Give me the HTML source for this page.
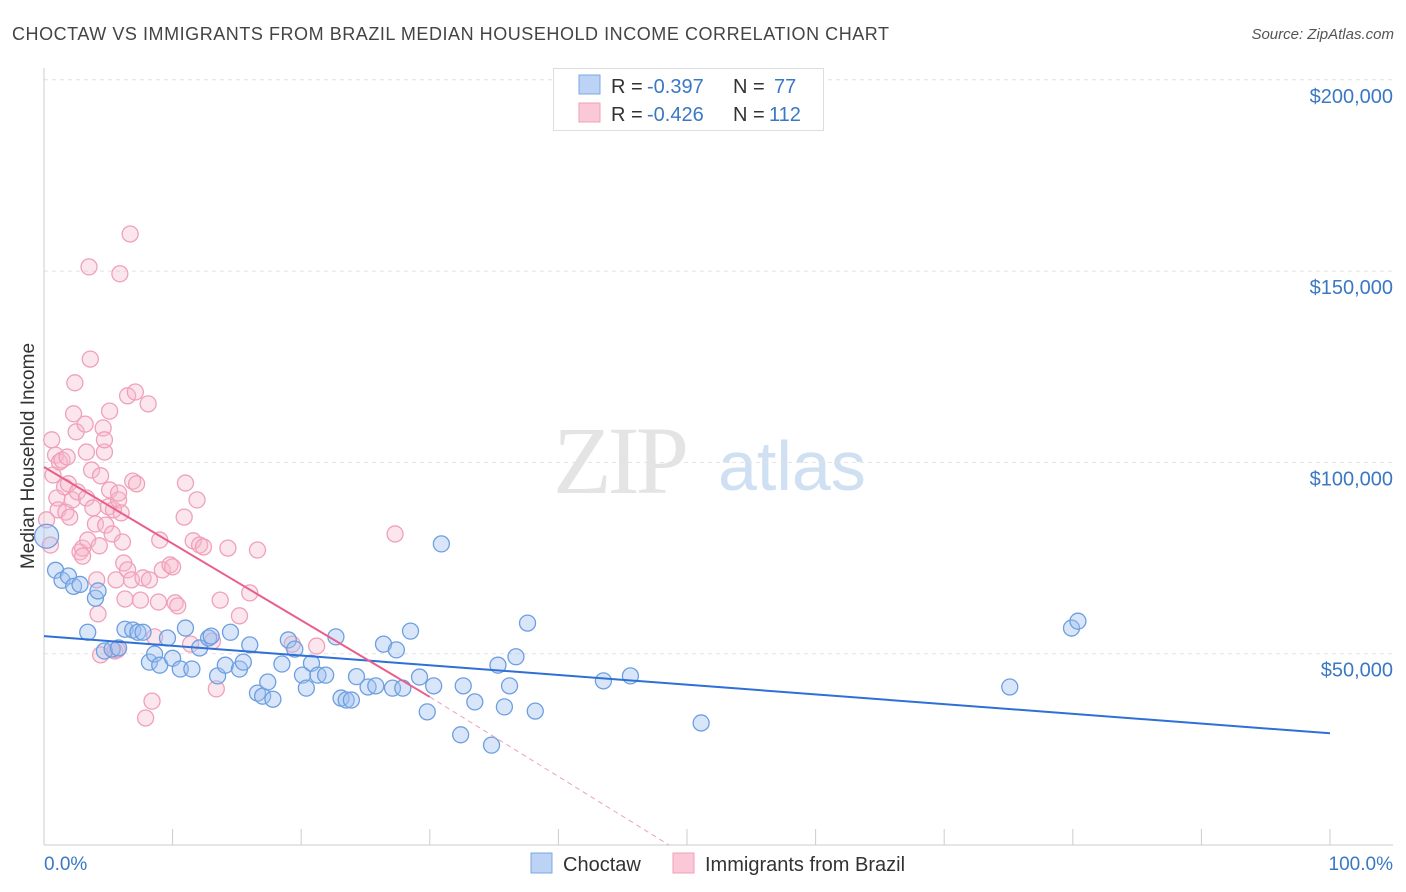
<!DOCTYPE html>
<html><head><meta charset="utf-8"><style>
body{margin:0;background:#fff;font-family:"Liberation Sans",sans-serif;}
svg{display:block}
</style></head><body>
<svg id="c" width="1406" height="892" xmlns="http://www.w3.org/2000/svg">
<text x="12" y="40" font-size="18" fill="#444" textLength="877">CHOCTAW VS IMMIGRANTS FROM BRAZIL MEDIAN HOUSEHOLD INCOME CORRELATION CHART</text>
<text x="1394" y="39" font-size="15" fill="#555" font-style="italic" text-anchor="end">Source: ZipAtlas.com</text>
<g><text x="553" y="493" font-size="96" fill="#e4e4e4" font-family="Liberation Serif,serif" letter-spacing="-4">ZIP</text><text x="718" y="490" font-size="70" fill="#cfe0f3">atlas</text></g>
<g id="grid"></g>
<line x1="44" y1="68" x2="44" y2="845" stroke="#ccc"/>
<line x1="44" y1="845" x2="1393" y2="845" stroke="#ccc"/>
<g id="ticks"></g>
<text x="34" y="456" font-size="19" fill="#333" text-anchor="middle" transform="rotate(-90 34 456)">Median Household Income</text>
<text x="44" y="870" font-size="19" fill="#3b78c4">0.0%</text>
<text x="1393" y="870" font-size="19" fill="#3b78c4" text-anchor="end">100.0%</text>
<g id="pts"></g>
<g id="lines"></g>
<g>
<rect x="553.5" y="68.5" width="270" height="62" fill="#fff" stroke="#ddd"/>
<rect x="579" y="75" width="21" height="19" fill="#bcd3f5" stroke="#7aa7e6"/>
<rect x="579" y="103" width="21" height="19" fill="#fac8d6" stroke="#f0a0b8"/>
<text x="611" y="93" font-size="20" fill="#333">R =</text><text x="647" y="93" font-size="20" fill="#3b78c4">-0.397</text>
<text x="733" y="93" font-size="20" fill="#333">N =</text><text x="774" y="93" font-size="20" fill="#3b78c4">77</text>
<text x="611" y="121" font-size="20" fill="#333">R =</text><text x="647" y="121" font-size="20" fill="#3b78c4">-0.426</text>
<text x="733" y="121" font-size="20" fill="#333">N =</text><text x="769" y="121" font-size="20" fill="#3b78c4">112</text>
</g>
<g>
<rect x="531" y="853" width="21" height="20" fill="#bcd3f5" stroke="#7aa7e6"/>
<text x="563" y="871" font-size="20" fill="#333">Choctaw</text>
<rect x="673" y="853" width="21" height="20" fill="#fac8d6" stroke="#f0a0b8"/>
<text x="705" y="871" font-size="20" fill="#333">Immigrants from Brazil</text>
</g>
</svg>
<script>
const yTicks=[50000,100000,150000,200000];
const yTickLabels=["$50,000","$100,000","$150,000","$200,000"];
const xTicks=[0,10,20,30,40,50,60,70,80,90,100];
const blueX=[0.2,0.9,1.4,1.9,2.3,2.8,3.4,4,4.2,4.7,5.3,5.8,6.3,6.9,7.3,7.7,8.2,8.6,9,9.6,10,10.6,11,11.5,12.1,12.8,13,13.5,14.1,14.5,15.2,15.5,16,16.6,17,17.4,17.8,18.5,19,19.5,20.1,20.4,20.8,21.3,21.9,22.7,23.1,23.5,23.9,24.3,25.2,25.8,26.4,27.1,27.4,27.9,28.5,29.2,29.8,30.3,30.9,32.4,32.6,33.5,34.8,35.3,35.8,36.2,36.7,37.6,38.2,43.5,45.6,51.1,75.1,79.9,80.4];
const blueY=[80.7,71.8,69.2,70.3,67.6,68.1,55.6,64.5,66.4,50.7,51.2,51.5,56.4,56.2,55.6,55.6,47.8,49.9,47.0,54.1,48.8,46.0,56.7,46.0,51.5,54.1,54.6,44.2,47.0,55.6,46.0,47.8,52.3,39.7,38.9,42.6,38.1,47.3,53.6,51.2,44.4,41.0,47.5,44.4,44.4,54.4,38.4,37.9,37.9,44.0,41.3,41.6,52.5,41.0,51.0,41.0,55.9,43.9,34.8,41.6,78.7,28.8,41.6,37.4,26.1,47.0,36.1,41.6,49.2,58.0,35.0,42.9,44.2,31.9,41.3,56.7,58.5];
const pinkX=[0.2,0.5,0.6,0.7,0.9,1.0,1.1,1.2,1.4,1.6,1.7,1.8,1.9,2.0,2.2,2.3,2.4,2.5,2.6,2.8,3.0,3.0,3.2,3.3,3.3,3.4,3.5,3.6,3.7,3.8,4.0,4.1,4.2,4.3,4.4,4.4,4.6,4.7,4.7,4.8,5.0,5.1,5.1,5.3,5.4,5.5,5.6,5.7,5.8,5.8,5.9,6.0,6.1,6.2,6.3,6.5,6.5,6.7,6.8,6.9,7.1,7.2,7.5,7.7,7.9,8.1,8.2,8.4,8.6,8.9,9.0,9.2,9.8,10.0,10.2,10.4,10.9,11.0,11.4,11.6,11.9,12.1,12.4,13.1,13.4,13.7,14.3,15.2,16.0,16.6,19.3,21.2,27.3];
const pinkY=[85.0,78.4,105.9,96.7,101.9,90.7,87.6,100.1,100.6,93.6,87.0,101.4,94.4,85.7,90.2,112.7,120.8,108.0,92.3,76.6,77.6,75.5,110.0,102.7,90.7,79.7,151.1,127.0,98.0,88.1,83.9,69.3,60.4,78.2,49.7,96.5,109.0,102.7,105.9,83.6,88.4,113.4,92.8,81.3,87.6,50.7,69.3,51.0,90.2,92.0,149.3,86.8,79.2,73.7,64.3,117.4,71.9,159.7,69.3,95.1,118.4,94.4,64.0,69.8,33.2,115.3,69.3,37.6,54.4,63.5,79.7,71.9,73.2,72.7,63.3,62.5,85.7,94.6,52.5,79.5,90.2,78.4,77.9,53.3,40.8,64.0,77.6,59.9,65.9,77.1,52.5,52.0,81.3];
const blueLine=[[0,54.6],[100,29.2]];
const pinkLine=[[0,98.8],[30,38.7]];
const pinkDash=[[30,38.7],[48.6,0]];
const NS="http://www.w3.org/2000/svg";
const sx=v=>44+v*12.86, sy=v=>845-v*191.3/50;
function mk(t,a,p){const e=document.createElementNS(NS,t);for(const k in a)e.setAttribute(k,a[k]);p.appendChild(e);return e;}
const grid=document.getElementById('grid'),ticks=document.getElementById('ticks'),pts=document.getElementById('pts'),lines=document.getElementById('lines');
yTicks.forEach((v,i)=>{
 const l=mk('line',{x1:44,x2:1393,y1:sy(v/1000),y2:sy(v/1000),stroke:'#e2e2e2','stroke-dasharray':'4 4'},grid);
 
 
 const t=mk('text',{x:1393,y:sy(v/1000)+23,'font-size':20,fill:'#3b78c4','text-anchor':'end'},grid);
 t.textContent=yTickLabels[i];
 
 
});
xTicks.forEach(v=>{
 const l=mk('line',{x1:sx(v),x2:sx(v),y1:829,y2:845,stroke:'#ccc'},ticks);
 
 
});
pinkX.forEach((x,i)=>{
 const c=mk('circle',{cx:sx(x),cy:sy(pinkY[i]),r:8,fill:'rgba(246,182,202,0.35)',stroke:'#f0a0ba','stroke-width':1.3},pts);
 
 
});
blueX.forEach((x,i)=>{
 const c=mk('circle',{cx:sx(x),cy:sy(blueY[i]),r:i==0?12:8,fill:'rgba(160,192,240,0.4)',stroke:'#6d9fe0','stroke-width':1.3},pts);
 
 
});
const bl=mk('line',{x1:sx(blueLine[0][0]),y1:sy(blueLine[0][1]),x2:sx(blueLine[1][0]),y2:sy(blueLine[1][1]),stroke:'#2f6fd6','stroke-width':2},lines);


const pl=mk('line',{x1:sx(pinkLine[0][0]),y1:sy(pinkLine[0][1]),x2:sx(pinkLine[1][0]),y2:sy(pinkLine[1][1]),stroke:'#e8608a','stroke-width':2},lines);


const pd=mk('line',{x1:sx(pinkDash[0][0]),y1:sy(pinkDash[0][1]),x2:sx(pinkDash[1][0]),y2:sy(pinkDash[1][1]),stroke:'#eea0b8','stroke-width':1,'stroke-dasharray':'5 4'},lines);


</script>
</body></html>
